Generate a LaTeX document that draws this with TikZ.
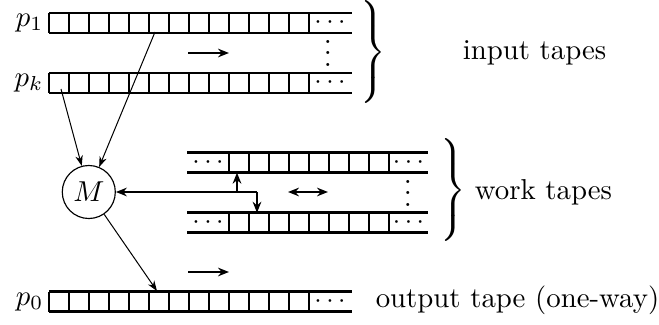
\documentclass[tikz,border=0pt]{standalone}
\usetikzlibrary{arrows.meta}
\newcommand\tightvdots{$\vcenter{\baselineskip=4pt \lineskiplimit=0pt \hbox{.}\hbox{.}\hbox{.}}$}
\begin{document}
\begin{tikzpicture}[x=0.347pt,y=-0.347pt,
  tapeline/.style={line width=0.95pt},
  cellline/.style={line width=0.6pt},
  thinarrow/.style={-{Stealth[length=3.6pt,width=2.6pt]}, line width=0.35pt},
  thickarrow/.style={-{Stealth[length=3.8pt,width=3pt]}, line width=1pt},
  dblarrow/.style={{Stealth[length=3.8pt,width=3pt]}-{Stealth[length=3.8pt,width=3pt]}, line width=1pt},
  machine/.style={draw, circle, line width=0.4pt, minimum size=18.4pt, inner sep=0pt},
  lbl/.style={inner sep=0pt},
  dotlbl/.style={inner sep=0pt, font=\small},
  bracenode/.style={inner sep=0pt}]
\useasboundingbox (0,0) rectangle (659,324);

% one-way tape: top y, 13 cells then dots
\newcommand\onewaytape[2]{%
  \draw[tapeline] (49,#1) -- (352,#1);
  \draw[tapeline] (49,#1+20) -- (352,#1+20);
  \foreach \i in {0,...,13} \draw[cellline] (49+20*\i,#1) -- ++(0,20);
  \node[dotlbl] (#2dots) at (330,#1+10) {$\cdots$};
}
% work tape
\newcommand\worktape[2]{%
  \draw[tapeline] (187,#1) -- (428,#1);
  \draw[tapeline] (187,#1+20) -- (428,#1+20);
  \foreach \i in {0,...,8} \draw[cellline] (229+20*\i,#1) -- ++(0,20);
  \node[dotlbl] (#2ldots) at (208,#1+10) {$\cdots$};
  \node[dotlbl] (#2rdots) at (408.5,#1+10) {$\cdots$};
}

% input tapes
\onewaytape{13}{in1}
\onewaytape{73}{ink}
\node[lbl, anchor=east] (p1) at (44,23) {$p_1$};
\node[lbl, anchor=east] (pk) at (44,83) {$p_k$};
\node[lbl] (invdots) at (328,53) {\tightvdots};
\coordinate (inarrL) at (188,53);
\coordinate (inarrR) at (229,53);
\draw[thickarrow] (inarrL) -- (inarrR);
\node[bracenode] (inbrace) at (372,52) {$\left.\vrule height 14.5pt depth 14.5pt width 0pt\right\}$};
\node[lbl] (intext) at (534.5,53) {input tapes};

% work tapes
\worktape{152.7}{w1}
\worktape{212.7}{w2}
\node[lbl] (wvdots) at (408,193) {\tightvdots};
\coordinate (warrL) at (288,192);
\coordinate (warrR) at (328,192);
\draw[dblarrow] (warrL) -- (warrR);
\node[bracenode] (wbrace) at (452,190) {$\left.\vrule height 14.5pt depth 14.5pt width 0pt\right\}$};
\node[lbl] (wtext) at (543.5,192) {work tapes};

% output tape
\onewaytape{291.7}{out}
\node[lbl, anchor=east] (p0) at (44,302) {$p_0$};
\coordinate (outarrL) at (188,272);
\coordinate (outarrR) at (229,272);
\draw[thickarrow] (outarrL) -- (outarrR);
\node[lbl] (outtext) at (517.5,300) {output tape (one-way)};

% machine
\node[machine] (M) at (88.8,192) {$M$};

% heads
\coordinate (h1) at (155,32);
\coordinate (hk) at (61,89);
\coordinate (ho) at (157,291);
\coordinate (hw1) at (237,172.7);
\coordinate (hw2) at (257,212.7);
\coordinate (jL) at (237,192);
\coordinate (jR) at (257,192);

\draw[thinarrow] (h1) -- (M);
\draw[thinarrow] (hk) -- (M);
\draw[thinarrow] (M) -- (ho);
\draw[thickarrow] (jR) -- (M);
\draw[thickarrow] (jL) -- (hw1);
\draw[thickarrow] (jR) -- (hw2);
\end{tikzpicture}
\end{document}
